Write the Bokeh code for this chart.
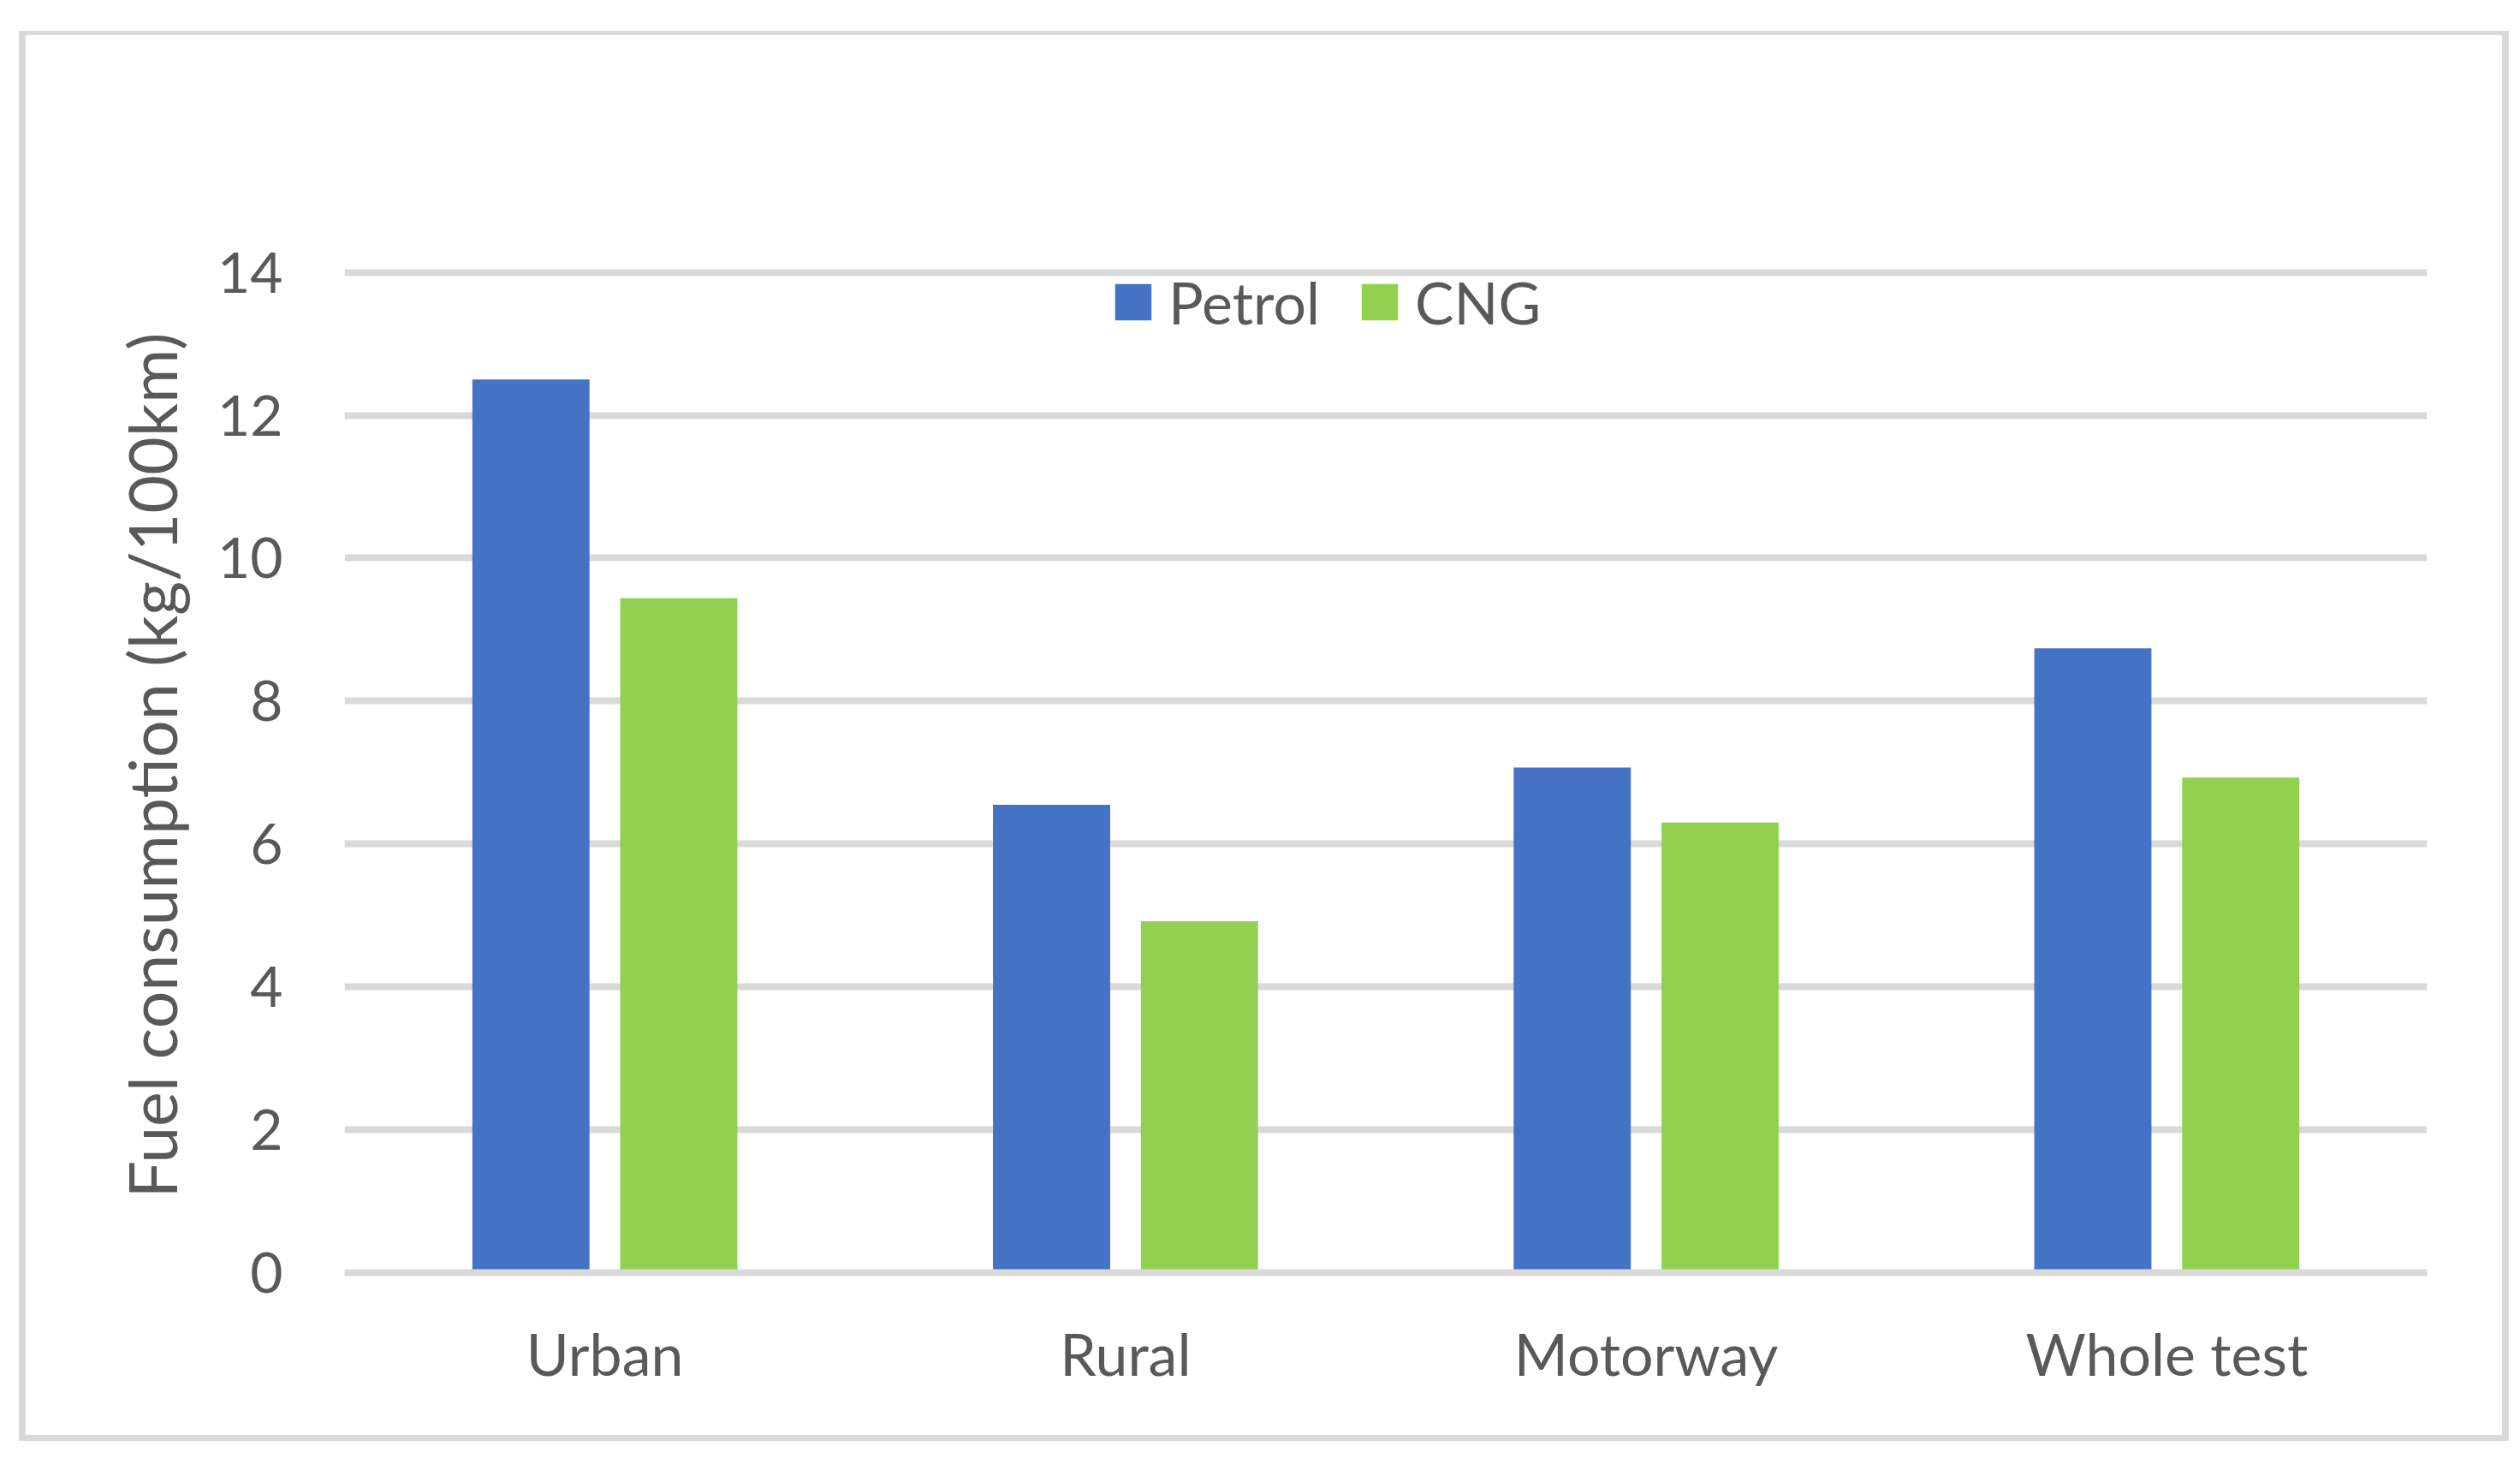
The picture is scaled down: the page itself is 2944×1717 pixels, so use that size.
from bokeh.plotting import figure
from bokeh.models import (ColumnDataSource, FactorRange, Range1d, FixedTicker,
                          Legend, LegendItem)
from bokeh.transform import dodge
from bokeh.embed import file_html
from bokeh.resources import INLINE

categories = ["Urban", "Rural", "Motorway", "Whole test"]
petrol = [12.5, 6.55, 7.07, 8.74]
cng = [9.44, 4.92, 6.30, 6.93]
y_ticks = [0, 2, 4, 6, 8, 10, 12, 14]

FONT = "Lato"
TXT = "#595959"
GRID = "#D9D9D9"

W, H = 2940, 1712

# chart-area border (Excel style), drawn as CSS background of the plot element
g = f"linear-gradient({GRID},{GRID})"
border_css = ", ".join([
    f"{g} 22px 36px/8px 1647px no-repeat",
    f"{g} 22px 36px/2909px 5px no-repeat",
    f"{g} 2923px 36px/8px 1647px no-repeat",
    f"{g} 22px 1676px/2909px 7px no-repeat",
])

src = ColumnDataSource(dict(cat=categories, petrol=petrol, cng=cng))

p = figure(width=W, height=H, output_backend="svg", toolbar_location=None,
           x_range=FactorRange(*categories, range_padding=0, factor_padding=0),
           y_range=Range1d(0, 14.2),
           min_border_left=402, min_border_right=W - 2835,
           min_border_top=301, min_border_bottom=H - 1486,
           styles={"background": border_css})
p.outline_line_color = None
p.background_fill_color = None
p.border_fill_color = None

r1 = p.vbar(x=dodge("cat", -0.142, range=p.x_range), top="petrol", width=0.225,
            source=src, fill_color="#4472C4", line_color=None)
r2 = p.vbar(x=dodge("cat", 0.142, range=p.x_range), top="cng", width=0.225,
            source=src, fill_color="#92D050", line_color=None)

# grid
p.xgrid.grid_line_color = None
p.ygrid.ticker = FixedTicker(ticks=y_ticks)
p.ygrid.grid_line_color = GRID
p.ygrid.grid_line_width = 8

# y axis
p.yaxis.ticker = FixedTicker(ticks=y_ticks)
p.yaxis.axis_line_color = None
p.yaxis.major_tick_line_color = None
p.yaxis.minor_tick_line_color = None
p.yaxis.major_label_standoff = 66
p.yaxis.major_label_text_font = FONT
p.yaxis.major_label_text_font_size = "66px"
p.yaxis.major_label_text_color = TXT
p.yaxis.axis_label = "Fuel consumption (kg/100km)"
p.yaxis.axis_label_text_font = FONT
p.yaxis.axis_label_text_font_size = "77px"
p.yaxis.axis_label_text_font_style = "normal"
p.yaxis.axis_label_text_color = TXT
p.yaxis.axis_label_standoff = 28

# x axis
p.xaxis.axis_line_color = GRID
p.xaxis.axis_line_width = 8
p.xaxis.major_tick_line_color = None
p.xaxis.minor_tick_line_color = None
p.xaxis.major_label_standoff = 47
p.xaxis.major_label_text_font = FONT
p.xaxis.major_label_text_font_size = "68px"
p.xaxis.major_label_text_color = TXT

legend = Legend(items=[LegendItem(label="Petrol", renderers=[r1]),
                       LegendItem(label="CNG", renderers=[r2])],
                orientation="horizontal", location=(895, 1093),
                label_text_font=FONT, label_text_font_size="68px",
                label_text_color=TXT, glyph_width=53, glyph_height=53,
                label_height=53, label_standoff=15, spacing=43,
                padding=0, margin=0, border_line_color=None,
                background_fill_alpha=0)
p.add_layout(legend, "center")

open("out.html", "w").write(file_html(p, INLINE))
